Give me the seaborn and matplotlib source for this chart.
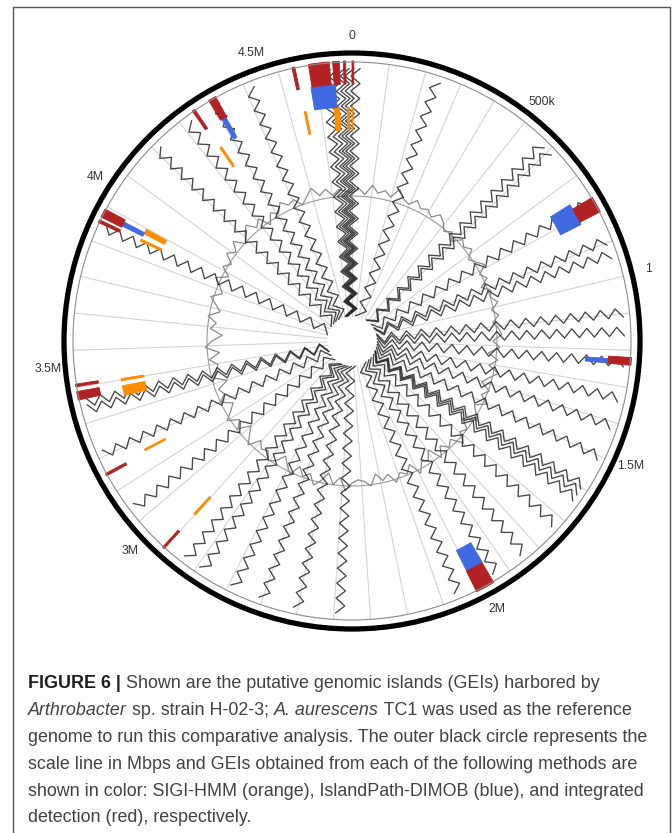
import numpy as np
import pandas as pd
import matplotlib
matplotlib.use("Agg")
import matplotlib.pyplot as plt
from matplotlib.patches import Circle, Wedge
import seaborn as sns

sns.set_theme(style="white")
plt.rcParams["font.family"] = ["Liberation Sans", "DejaVu Sans"]

# ---------------------------------------------------------------- data
GENOME_KB = 4700

tick_kb = [0, 500, 1000, 1500, 2000, 3000, 3500, 4000, 4500]
tick_text = ["0", "500k", "1", "1.5M", "2M", "3M", "3.5M", "4M", "4.5M"]

# positions (kb) of the radial comparison links to the reference genome
link_kb = [4628, 4648, 4667, 4680, 4693, 10, 235, 574, 601, 777, 894, 933,
           1097, 1149, 1234, 1332, 1410, 1501, 1593, 1612, 1632, 1723, 1841,
           1932, 2050, 2383, 2500, 2598, 2683, 2781, 2833, 3035, 3205, 3336,
           3355, 3845, 4106, 4217, 4308, 4413]

# GC content deviation around the genome (one value per 2.5 degrees)
gc_dev = [3, 8, 2, 12, 5, 9, 4, 14, 6, 3, 10, 4, 7, 2, 9, 5,
          -2, 3, -4, 5, 1, 6, -3, 2, 8, -1, 4, -5, 3, 0, 6, -2, 4, -3, 2, 5,
          -4, 3, -8, 2, -6, 5, -3, -9, 1, -5, 4, -7, -2, 3, -10, 0, -4, 6, -6, -1,
          -8, 2, -12, -3, -6, 4, -9, -1, -5, 3, -7, -2, -10, 1, -4, -6,
          -3, 5, -8, 0, -11, -2, 4, -6, -1, -9, 2, -5, -12, -3, 1, -7,
          -4, -10, 2, -6, -13, -1, -8, 3, -5, -11, 0, -7, -3, -14, -2, -6,
          -9, -1, -12, 2, -5, -15, -3, -8, 1, -10, -4, 3, -7, -2, 5, -6,
          4, -2, 8, 1, 10, -1, 6, 12, 3, 9, -3, 7, 2, 11, 5, 8, 0, 6, 13, 4, 9, 2, 7, 5]

# genomic islands (kb) per method
integrated_start = [4583, 4648, 4677, 0, 4538, 4298, 4246, 3868, 3852, 1219, 772, 1953, 3366, 3402, 3149, 2900]
integrated_end   = [4639, 4666, 4683, 5, 4546, 4319, 4254, 3892, 3860, 1240, 816, 2005, 3389, 3409, 3156, 2906]
islandpath_start = [4580, 4303, 3872, 1226, 757, 1952]
islandpath_end   = [4652, 4316, 3885, 1239, 823, 2004]
sigi_start = [4643, 4686, 0, 4546, 4251, 3881, 3855, 3350, 3397, 3160, 2898]
sigi_end   = [4660, 4691, 4, 4553, 4258, 3897, 3862, 3381, 3404, 3166, 2905]

caption_lines = [
    [("FIGURE 6 |", "bold", "normal"), (" Shown are the putative genomic islands (GEIs) harbored by", "normal", "normal")],
    [("Arthrobacter", "normal", "italic"), (" sp. strain H-02-3; ", "normal", "normal"),
     ("A. aurescens", "normal", "italic"), (" TC1 was used as the reference", "normal", "normal")],
    [("genome to run this comparative analysis. The outer black circle represents the", "normal", "normal")],
    [("scale line in Mbps and GEIs obtained from each of the following methods are", "normal", "normal")],
    [("shown in color: SIGI-HMM (orange), IslandPath-DIMOB (blue), and integrated", "normal", "normal")],
    [("detection (red), respectively.", "normal", "normal")],
]

# ---------------------------------------------------------------- layout
W, H = 672, 833
CX, CY = 352, 341            # circle centre in pixels
R_SCALE = 288                # black scale circle
R_EDGE = 279                 # thin grey circle
R_HOLE = 25
R_GC = 145
TRACKS = {"integrated": (257, 280), "islandpath": (234, 257), "sigi": (211, 234)}
COLORS = {"integrated": "#b22222", "islandpath": "#4169e1", "sigi": "#ff8c00"}
label_nudge = [0, 0.2, -0.2, -0.7, -1.6, -3.2, -3.3, -3.8, -3.9]
label_r = 305


def deg(kb):
    return np.asarray(kb, dtype=float) / GENOME_KB * 360.0


def polar(theta_deg, r):
    t = np.deg2rad(theta_deg)
    return r * np.sin(t), r * np.cos(t)


def zigzag(theta_deg, r0, r1, half=7.5, amp=4.5):
    n = int((r1 - r0) / half)
    r = r0 + np.arange(n + 1) * half
    off = np.where(np.arange(n + 1) % 2 == 0, -amp, amp)
    t = np.deg2rad(theta_deg)
    x = r * np.sin(t) + off * np.cos(t)
    y = r * np.cos(t) - off * np.sin(t)
    return x, y


fig = plt.figure(figsize=(W / 100, H / 100), dpi=100)
ax = fig.add_axes([0, 0, 1, 1])

# radial grid every 100 kb
spoke_rows = []
for i, kb in enumerate(range(0, GENOME_KB, 100)):
    for r in (R_HOLE, R_EDGE):
        x, y = polar(deg(kb), r)
        spoke_rows.append({"x": x, "y": y, "line": i})
sns.lineplot(data=pd.DataFrame(spoke_rows), x="x", y="y", units="line",
             estimator=None, sort=False, color="#d4d4d4", lw=0.8, ax=ax, legend=False)

# GC content baseline and trace
base = np.linspace(0, 360, 361)
bx, by = polar(base, R_GC)
sns.lineplot(x=bx, y=by, sort=False, estimator=None, color="#9a9a9a", lw=0.8, ax=ax)
gc_theta = np.arange(len(gc_dev)) * 360.0 / len(gc_dev)
gc_r = R_GC + np.asarray(gc_dev, dtype=float)
gx, gy = polar(np.append(gc_theta, 360.0), np.append(gc_r, gc_r[0]))
sns.lineplot(x=gx, y=gy, sort=False, estimator=None, color="#8a8a8a", lw=0.9, ax=ax)

# zig-zag comparison links
link_rows = []
for i, kb in enumerate(link_kb):
    x, y = zigzag(deg(kb), R_HOLE, R_EDGE)
    for xx, yy in zip(x, y):
        link_rows.append({"x": xx, "y": yy, "line": i})
sns.lineplot(data=pd.DataFrame(link_rows), x="x", y="y", units="line",
             estimator=None, sort=False, color="#262626", alpha=0.85, lw=0.95,
             ax=ax, legend=False)

# genomic islands
for key, starts, ends in (("sigi", sigi_start, sigi_end),
                          ("islandpath", islandpath_start, islandpath_end),
                          ("integrated", integrated_start, integrated_end)):
    r_in, r_out = TRACKS[key]
    for s, e in zip(starts, ends):
        a0, a1 = deg(s), deg(e)
        ax.add_patch(Wedge((0, 0), r_out, 90 - a1, 90 - a0, width=r_out - r_in,
                           facecolor=COLORS[key], edgecolor=COLORS[key], lw=0.6, zorder=5))

# scale circles and centre hole
ax.add_patch(Circle((0, 0), R_EDGE, fill=False, ec="#8c8c8c", lw=0.8, zorder=6))
ax.add_patch(Circle((0, 0), R_SCALE, fill=False, ec="black", lw=3.8, zorder=7))
ax.add_patch(Circle((0, 0), R_HOLE - 2, fc="white", ec="none", zorder=6))

for kb, txt, nudge in zip(tick_kb, tick_text, label_nudge):
    x, y = polar(deg(kb) + nudge, label_r)
    ax.text(x, y, txt, ha="center", va="center", fontsize=8.8, color="#333333", zorder=8)

# frame
fx0, fx1, fy0 = 13 - CX, 670 - CX, CY - 7
ax.plot([fx0, fx0, fx1, fx1], [-H, fy0, fy0, -H], color="#555555", lw=1.0, zorder=9)

ax.set_xlim(-CX, W - CX)
ax.set_ylim(CY - H, CY)
ax.set_axis_off()

# caption, drawn run by run so bold / italic pieces sit on one line
fig.canvas.draw()
renderer = fig.canvas.get_renderer()


def run_width(text, size, weight, style):
    probe = ax.text(0, 0, "|" + text + "|", fontsize=size, fontweight=weight, fontstyle=style)
    bar = ax.text(0, 0, "||", fontsize=size, fontweight=weight, fontstyle=style)
    w = probe.get_window_extent(renderer).width - bar.get_window_extent(renderer).width
    probe.remove()
    bar.remove()
    return w


ref_w = run_width(caption_lines[4][0][0], 12, "normal", "normal")
cap_size = 12 * 617 / ref_w
baselines = [688, 715, 742, 769, 796, 822]
for runs, yb in zip(caption_lines, baselines):
    x = 28 - CX
    for text, weight, style in runs:
        color = "#1e1e1e" if weight == "bold" else "#424242"
        ax.text(x, CY - yb, text, fontsize=cap_size, fontweight=weight, fontstyle=style,
                ha="left", va="baseline", color=color)
        x += run_width(text, cap_size, weight, style)

fig.savefig("out.png", dpi=100)
